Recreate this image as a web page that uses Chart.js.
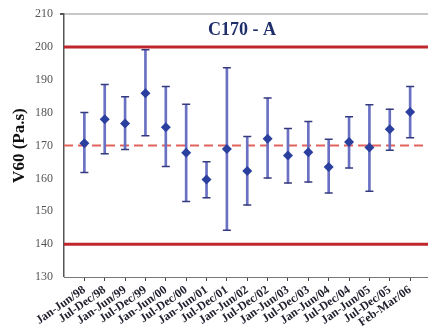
<!DOCTYPE html>
<html>
<head>
<meta charset="utf-8">
<script src="https://cdn.jsdelivr.net/npm/chart.js@4/dist/chart.umd.min.js"></script>
<style>
html,body{margin:0;padding:0;background:#fff;overflow:hidden;}
canvas{display:block;}
</style>
</head>
<body>
<canvas id="c" width="436" height="330" style="width:436px;height:330px"></canvas>
<script>
const categories = ['Jan-Jun/98','Jul-Dec/98','Jan-Jun/99','Jul-Dec/99','Jan-Jun/00','Jul-Dec/00','Jan-Jun/01','Jul-Dec/01','Jan-Jun/02','Jul-Dec/02','Jan-Jun/03','Jul-Dec/03','Jan-Jun/04','Jul-Dec/04','Jan-Jun/05','Jul-Dec/05','Feb-Mar/06'];
const means = [170.7,178.0,176.7,185.9,175.6,167.8,159.7,169.0,162.3,172.1,167.0,168.0,163.5,171.1,169.4,175.0,180.2];
const highs = [180.1,188.6,184.9,199.2,188.0,182.6,165.1,193.7,172.8,184.5,175.2,177.3,171.9,178.8,182.4,181.1,188.0];
const lows  = [161.8,167.5,168.8,173.0,163.6,153.0,154.1,144.2,151.9,160.1,158.6,158.9,155.6,163.2,156.1,168.6,172.4];
const upperLimit = 200;
const target = 170;
const lowerLimit = 140;
const yTicks = [130,140,150,160,170,180,190,200,210];
const titleText = 'C170 - A';
const yTitle = 'V60 (Pa.s)';

const xMin = 0, xMax = categories.length + 1;
const pos = categories.map((_, i) => i + 1);
const hline = v => [{x:xMin,y:v},{x:xMax,y:v}];

const titlePlugin = {
  id: 'innerTitle',
  afterDraw(chart) {
    const {ctx, scales} = chart;
    ctx.save();
    ctx.font = 'bold 18px "Liberation Serif", serif';
    ctx.fillStyle = '#1f2f6a';
    ctx.textAlign = 'center';
    ctx.textBaseline = 'middle';
    ctx.fillText(titleText, 242, scales.y.getPixelForValue(205.2));
    ctx.restore();
  }
};

new Chart(document.getElementById('c'), {
  data: {
    datasets: [
      {type:'line', data: hline(upperLimit), borderColor:'#c0272d', borderWidth:3, pointRadius:0, order:10},
      {type:'line', data: hline(lowerLimit), borderColor:'#c0272d', borderWidth:3, pointRadius:0, order:10},
      {type:'line', data: hline(target), borderColor:'#e2625c', borderWidth:2, borderDash:[9,5], pointRadius:0, order:10},
      {type:'bar', data: pos.map((x,i)=>({x:x, y:[lows[i], highs[i]]})), backgroundColor:'#6a70c2', barThickness:2, order:5},
      {type:'line', data: pos.map((x,i)=>({x:x, y:highs[i]})), showLine:false, pointStyle:'line', pointRadius:4, borderColor:'#343a7e', borderWidth:1.5, order:3},
      {type:'line', data: pos.map((x,i)=>({x:x, y:lows[i]})), showLine:false, pointStyle:'line', pointRadius:4, borderColor:'#343a7e', borderWidth:1.5, order:3},
      {type:'line', data: pos.map((x,i)=>({x:x, y:means[i]})), showLine:false, pointStyle:'rectRot', pointRadius:5, backgroundColor:'#2b3f9f', borderColor:'#2b3f9f', borderWidth:0, order:1}
    ]
  },
  options: {
    responsive:false, animation:false,
    layout:{padding:{top:13, right:0, left:0, bottom:0}},
    plugins:{legend:{display:false}, tooltip:{enabled:false}},
    scales:{
      x:{
        type:'linear', min:xMin, max:xMax, offset:false,
        afterBuildTicks(s){ s.ticks = pos.map(v=>({value:v})); },
        afterFit(s){ s.height = 53; s.paddingRight = 0; },
        ticks:{
          autoSkip:false, minRotation:35, maxRotation:35, padding:2,
          color:'#222230', font:{family:'"Liberation Serif", serif', size:12, weight:'bold'},
          callback:(v)=> categories[v-1] || ''
        },
        grid:{offset:false, drawOnChartArea:false, tickLength:4, tickColor:'#444', color:'#444'},
        border:{color:'#777', width:1}
      },
      y:{
        min:130, max:210,
        afterBuildTicks(s){ s.ticks = yTicks.map(v=>({value:v})); },
        afterFit(s){ s.width = 64; },
        ticks:{color:'#555', padding:7, font:{family:'"Liberation Serif", serif', size:12}},
        grid:{
          tickLength:4, tickColor:'#555',
          color:(c)=> c.tick && c.tick.value===210 ? '#c8c8c8' : 'rgba(0,0,0,0)',
          lineWidth:(c)=> c.tick && c.tick.value===210 ? 2 : 0
        },
        border:{color:'#555', width:1.5},
        title:{display:true, text:yTitle, color:'#111', padding:{top:9,bottom:0}, font:{family:'"Liberation Serif", serif', size:17, weight:'bold'}}
      }
    }
  },
  plugins:[titlePlugin]
});
</script>
</body>
</html>
